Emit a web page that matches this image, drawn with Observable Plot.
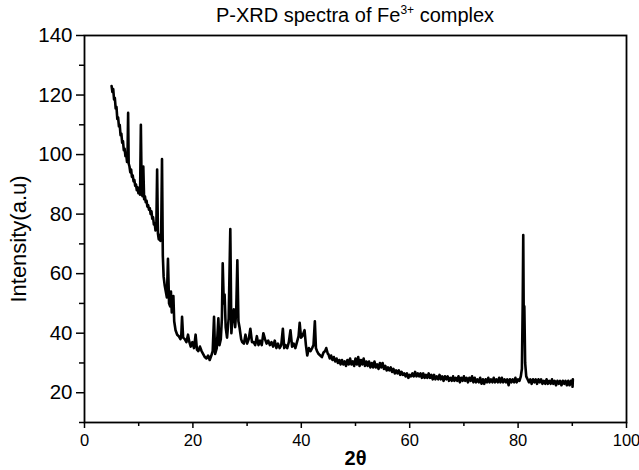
<!DOCTYPE html>
<html>
<head>
<meta charset="utf-8">
<script src="https://cdn.jsdelivr.net/npm/d3@7"></script>
<script src="https://cdn.jsdelivr.net/npm/@observablehq/plot@0.6"></script>
<style>
  html, body { margin: 0; padding: 0; background: white; }
  #wrap { position: relative; width: 639px; height: 470px; }
  #title { position: absolute; top: 5px; left: 84px; width: 542px; text-align: center;
           font-family: "Liberation Sans", Arial, sans-serif; font-size: 20px; line-height: 20px; color: #000; }
  #title sup { font-size: 12px; line-height: 0; vertical-align: 8px; }
</style>
</head>
<body>
<div id="wrap"><div id="title">P-XRD spectra of Fe<sup>3+</sup> complex</div></div>
<script>
const titleText = "P-XRD spectra of Fe3+ complex";
const xLabel = "2θ";
const yLabel = "Intensity(a.u)";
const xMajorTicks = [0, 20, 40, 60, 80, 100];
const xMinorTicks = [10, 30, 50, 70, 90];
const yMajorTicks = [20, 40, 60, 80, 100, 120, 140];
const yMinorTicks = [10, 30, 50, 70, 90, 110, 130];

// [2θ, intensity]
const lowAngle = [[5.0,123],[5.15,121],[5.3,122],[5.45,118.5],[5.6,119],[5.75,115.5],[5.9,116],[6.05,112],[6.2,112.5],[6.35,109.5],[6.5,110],[6.65,106.5],[6.8,107],[6.95,104],[7.1,104.5],[7.25,101.5],[7.4,102],[7.55,99.5],[7.7,100],[7.85,97.5],[7.95,101],[8.05,114],[8.15,97],[8.3,96],[8.45,94],[8.6,95],[8.75,92.5],[8.9,93],[9.05,91],[9.2,91.5],[9.35,89.5],[9.5,90],[9.65,88],[9.8,89],[9.95,87],[10.1,88],[10.25,86.5],[10.4,110],[10.55,88],[10.7,86],[10.85,96],[11.0,85],[11.15,86],[11.3,84],[11.45,84.5],[11.6,82.5],[11.75,83],[11.9,81.5],[12.05,82],[12.2,80],[12.35,81],[12.5,78.5],[12.65,79],[12.8,76.5],[12.95,77],[13.1,74.5],[13.25,75],[13.4,95],[13.55,73.5],[13.7,71.5],[13.85,73],[14.0,71],[14.15,74],[14.3,98.5],[14.45,66],[14.6,59],[14.8,56],[15.0,54]];

const midAngle = [[15.2,52],[15.4,65],[15.6,50],[15.8,49],[15.95,54],[16.1,47],[16.4,52.5],[16.55,44],[16.8,41],[17.1,39.5],[17.4,39],[17.7,38],[17.85,39],[18.0,45.5],[18.2,38.5],[18.5,38],[18.8,37],[19.1,39.5],[19.35,37],[19.6,35.5],[19.9,37],[20.2,35],[20.5,39.5],[20.75,34.5],[21.0,34],[21.3,35.5],[21.6,34],[21.9,33],[22.2,32],[22.5,31.5],[22.8,32.5],[23.1,31],[23.4,32.5],[23.65,34],[23.9,45.5],[24.1,33],[24.4,35],[24.7,45],[24.9,36],[25.15,38],[25.35,45],[25.5,63.5],[25.7,50],[25.85,53],[26.05,42],[26.3,38.5],[26.6,45],[26.9,75],[27.1,40],[27.3,45],[27.55,48],[27.8,42],[28.0,48],[28.2,64.5],[28.4,44],[28.6,42],[28.9,38],[29.1,37],[29.4,36.5],[29.7,39.5],[30.0,36.5],[30.3,38],[30.6,41.5],[30.9,37],[31.2,37],[31.5,36],[31.8,39],[32.1,36],[32.4,37.5],[32.7,36],[33.0,40],[33.3,38],[33.6,36.5],[33.9,37.5],[34.2,36],[34.5,37],[34.8,35.5],[35.1,37.5],[35.4,35],[35.7,36.5],[36.0,35],[36.3,36],[36.6,41.5],[36.85,35],[37.1,36],[37.4,35],[37.7,37],[38.0,41],[38.3,35.5],[38.6,36.5],[38.9,35],[39.2,37],[39.5,39],[39.7,43.5],[39.95,38.5],[40.2,39],[40.6,41],[40.85,36],[41.1,32.5],[41.4,35],[41.7,34],[42.0,35],[42.25,36],[42.5,44],[42.7,35],[42.9,34],[43.2,33],[43.5,32.5],[43.8,32],[44.1,33.5],[44.4,34],[44.6,35],[44.9,33]];

const highAngle = [[45.0,33],[45.25,31.5],[45.5,32.5],[45.75,31],[46.0,32],[46.25,30.5],[46.5,31.5],[46.75,30],[47.0,31],[47.25,29.5],[47.5,31],[47.75,29.5],[48.0,30.5],[48.25,29],[48.5,31],[48.75,29.5],[49.0,31.5],[49.25,29.5],[49.5,30.5],[49.75,29],[50.0,31.5],[50.25,29.5],[50.5,32],[50.75,29],[51.0,31],[51.25,29.5],[51.5,31.5],[51.75,29],[52.0,30.5],[52.25,29],[52.5,30.5],[52.75,28.5],[53.0,30],[53.25,28.5],[53.5,30.5],[53.75,28.5],[54.0,29.5],[54.25,28],[54.5,30],[54.75,28.5],[55.0,30],[55.25,28],[55.5,29],[55.75,27.5],[56.0,28.5],[56.25,27.5],[56.5,28.5],[56.75,27],[57.0,28],[57.25,26.5],[57.5,27.5],[57.75,26.5],[58.0,27.5],[58.25,26],[58.5,27],[58.75,26],[59.0,26.5],[59.25,25.5],[59.5,26.5],[59.75,25],[60.0,26],[60.25,25.5],[60.5,26.5],[60.75,25.5],[61.0,27],[61.25,25.5],[61.5,26.5],[61.75,25.5],[62.0,26.5],[62.25,25],[62.5,26.5],[62.75,25],[63.0,26],[63.25,25],[63.5,26.5],[63.75,25],[64.0,26],[64.25,24.5],[64.5,26],[64.75,24.5],[65.0,25.5],[65.25,24.5],[65.5,26],[65.75,24.5],[66.0,25.5],[66.25,24],[66.5,25.5],[66.75,24.5],[67.0,25.5],[67.25,24],[67.5,25],[67.75,24],[68.0,25.5],[68.25,24],[68.5,25],[68.75,24],[69.0,25.5],[69.25,23.5],[69.5,25],[69.75,24],[70.0,25.5],[70.25,24],[70.5,25],[70.75,23.5],[71.0,25],[71.25,24],[71.5,25.5],[71.75,23.5],[72.0,25],[72.25,23.5],[72.5,24.5],[72.75,23.5],[73.0,25],[73.25,23],[73.5,24.5],[73.75,23],[74.0,24.5],[74.25,23.5],[74.5,25],[74.75,23.5],[75.0,24.5],[75.25,23.5],[75.5,25],[75.75,23.5],[76.0,24.5],[76.25,23.5],[76.5,25],[76.75,23.5],[77.0,25],[77.25,23.5],[77.5,24.5],[77.75,23.5],[78.0,24.5],[78.25,22.5],[78.5,24.5],[78.75,23.5],[79.0,24.5],[79.25,23.5],[79.5,25],[79.75,23.5],[80.0,24.5],[80.25,24],[80.5,25.5],[80.7,28],[80.85,50],[80.95,73],[81.05,42],[81.15,49],[81.3,30],[81.5,25.5],[81.75,24.5],[82.0,23.5],[82.25,24.5],[82.5,23],[82.75,24.5],[83.0,23.5],[83.25,24.5],[83.5,23],[83.75,24.5],[84.0,23.5],[84.25,24.5],[84.5,23],[84.75,24],[85.0,23],[85.25,24.5],[85.5,23],[85.75,24],[86.0,23],[86.25,24.5],[86.5,23],[86.75,24],[87.0,22.5],[87.25,24],[87.5,23],[87.75,24],[88.0,22.5],[88.25,24],[88.5,23],[88.75,24],[89.0,22.5],[89.25,24],[89.5,22.5],[89.75,24],[90.0,23],[90.05,22],[90.1,24.5]];

const pattern = [...lowAngle, ...midAngle, ...highAngle];

const font = '"Liberation Sans", Arial, Helvetica, sans-serif';

const chart = Plot.plot({
  width: 639,
  height: 470,
  marginLeft: 84,
  marginRight: 13,
  marginTop: 35,
  marginBottom: 48,
  style: { fontFamily: font, background: "transparent", color: "#000", overflow: "visible" },
  x: { domain: [0, 100] },
  y: { domain: [10, 140] },
  marks: [
    Plot.line(pattern, { x: d => d[0], y: d => d[1], stroke: "#000", strokeWidth: 2.6, strokeLinejoin: "round" }),
    Plot.frame({ stroke: "#000", strokeWidth: 1.8 }),
    Plot.axisX({ ticks: xMajorTicks, tickSize: 6, tickPadding: 6, fontSize: 16.5, strokeWidth: 1.5, label: null }),
    Plot.axisX({ ticks: xMinorTicks, tickSize: 4, tickFormat: () => "", strokeWidth: 1.5, label: null }),
    Plot.axisY({ ticks: yMajorTicks, tickSize: 8, tickPadding: 4, fontSize: 20.5, strokeWidth: 1.5, label: null }),
    Plot.axisY({ ticks: yMinorTicks, tickSize: 5, tickFormat: () => "", strokeWidth: 1.5, label: null }),
    Plot.text([yLabel], { frameAnchor: "left", textAnchor: "middle", lineAnchor: "middle", rotate: -90, dx: -66, dy: 10, fontSize: 22, fill: "#000" }),
    Plot.text([xLabel], { frameAnchor: "bottom", textAnchor: "middle", lineAnchor: "middle", dy: 36, fontSize: 20, fontWeight: "bold", fill: "#000" })
  ]
});
document.getElementById("wrap").prepend(chart);
chart.style.position = "absolute";
chart.style.left = "0px";
chart.style.top = "0px";
</script>
</body>
</html>
